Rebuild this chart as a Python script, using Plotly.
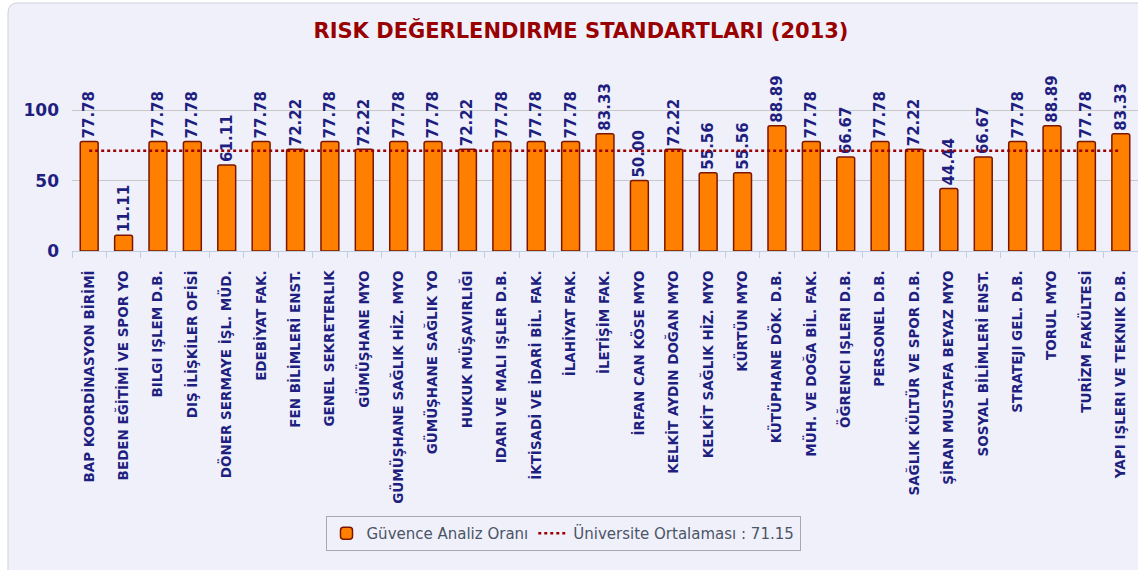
import plotly.graph_objects as go

categories = [
    "BAP KOORDİNASYON BİRİMİ", "BEDEN EĞİTİMİ VE SPOR YO", "BILGI IŞLEM D.B.",
    "DIŞ İLİŞKİLER OFİSİ", "DÖNER SERMAYE İŞL. MÜD.", "EDEBİYAT FAK.",
    "FEN BİLİMLERİ ENST.", "GENEL SEKRETERLIK", "GÜMÜŞHANE MYO",
    "GÜMÜŞHANE SAĞLIK HİZ. MYO", "GÜMÜŞHANE SAĞLIK YO", "HUKUK MÜŞAVIRLIĞI",
    "IDARI VE MALI IŞLER D.B.", "İKTİSADİ VE İDARİ BİL. FAK.", "İLAHİYAT FAK.",
    "İLETİŞİM FAK.", "İRFAN CAN KÖSE MYO", "KELKİT AYDIN DOĞAN MYO",
    "KELKİT SAĞLIK HİZ. MYO", "KÜRTÜN MYO", "KÜTÜPHANE DÖK. D.B.",
    "MÜH. VE DOĞA BİL. FAK.", "ÖĞRENCI IŞLERI D.B.", "PERSONEL D.B.",
    "SAĞLIK KÜLTÜR VE SPOR D.B.", "ŞİRAN MUSTAFA BEYAZ MYO", "SOSYAL BİLİMLERİ ENST.",
    "STRATEJI GEL. D.B.", "TORUL MYO", "TURİZM FAKÜLTESİ", "YAPI IŞLERI VE TEKNIK D.B.",
]
values = [
    77.78, 11.11, 77.78, 77.78, 61.11, 77.78, 72.22, 77.78, 72.22, 77.78,
    77.78, 72.22, 77.78, 77.78, 77.78, 83.33, 50.00, 72.22, 55.56, 55.56,
    88.89, 77.78, 66.67, 77.78, 72.22, 44.44, 66.67, 77.78, 88.89, 77.78, 83.33,
]
average = 71.15
series_name = "Güvence Analiz Oranı"
average_name = f"Üniversite Ortalaması : {average:.2f}"
y_ticks = [0, 50, 100]
title_text = "RISK DEĞERLENDIRME STANDARTLARI (2013)"

W, H = 1138, 570
ML, MR, MT, MB = 72, 0, 82, 319
PW = W - ML - MR
PH = H - MT - MB
PLOT_BOTTOM = H - MB


def px_x(p):
    return (p - ML) / PW


def px_y(p):
    return (PLOT_BOTTOM - p) / PH


NAVY = "#1f1f80"
FONT = "DejaVu Sans"

fig = go.Figure()
fig.add_trace(go.Bar(
    x=categories, y=values, name=series_name,
    marker=dict(color="#ff8000", line=dict(color="#7a1500", width=1.5), cornerradius=2),
    texttemplate="%{y:.2f}", textposition="outside", textangle=-90,
    textfont=dict(family=FONT, size=15, color=NAVY, weight="bold"),
    constraintext="none", cliponaxis=False,
))
fig.add_trace(go.Scatter(
    x=categories, y=[average] * len(categories), name=average_name,
    mode="lines", line=dict(color="#990000", width=2.5, dash="dot"),
))

# rounded background panel
x0, x1 = px_x(8), px_x(1145)
y0, y1 = px_y(3), px_y(575)
rx = 10 / PW
ry = 10 / PH
path = (f"M {x0},{y1} L {x0},{y0 - ry} Q {x0},{y0} {x0 + rx},{y0} "
        f"L {x1},{y0} L {x1},{y1} Z")
fig.add_shape(type="path", path=path, xref="paper", yref="paper",
              fillcolor="#f0f0fb", line=dict(color="#cfcfd8", width=1), layer="below")

fig.update_layout(
    width=W, height=H,
    margin=dict(l=ML, r=MR, t=MT, b=MB, autoexpand=False),
    paper_bgcolor="#ffffff", plot_bgcolor="rgba(0,0,0,0)",
    bargap=0.48,
    font=dict(family=FONT),
    title=dict(text=title_text, xref="container", yref="container",
               x=581 / W, xanchor="center", y=1 - 31 / H, yanchor="middle",
               font=dict(family=FONT, size=21, color="#990000", weight="bold")),
    showlegend=True,
    legend=dict(orientation="h", x=px_x(563), xanchor="center", y=px_y(516), yanchor="top",
                bgcolor="rgba(0,0,0,0)", bordercolor="#a8a8b0", borderwidth=1,
                font=dict(family=FONT, size=15, color="#4a5566"), itemwidth=30),
    xaxis=dict(type="category", tickangle=-90, ticks="outside", tickson="boundaries",
               ticklen=6, tickcolor="#c0d0e0", showline=True, linecolor="#c0d0e0",
               showgrid=False, ticklabelstandoff=13,
               tickfont=dict(family=FONT, size=13.5, color=NAVY, weight="bold")),
    yaxis=dict(range=[0, 120], tickvals=y_ticks, showgrid=True, gridcolor="#c8c8c8",
               zeroline=False, ticks="", ticklabelstandoff=12,
               tickfont=dict(family=FONT, size=17, color=NAVY, weight="bold")),
)

fig.write_html(
    "out.html",
    config={"displayModeBar": False},
    post_script="document.body.style.margin='0';document.body.style.overflow='hidden';",
)
